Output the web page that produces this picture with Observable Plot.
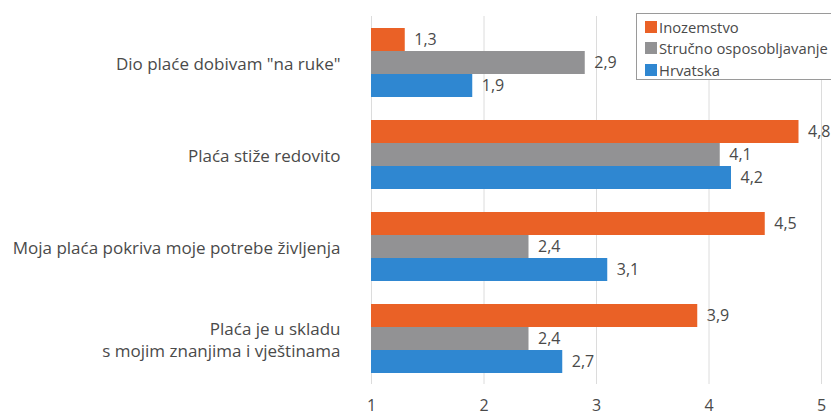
<!DOCTYPE html>
<html>
<head>
<meta charset="utf-8">
<script src="https://cdn.jsdelivr.net/npm/d3@7"></script>
<script src="https://cdn.jsdelivr.net/npm/@observablehq/plot@0.6"></script>
<style>
  html, body { margin: 0; padding: 0; background: #fff; }
  #wrap { position: relative; width: 831px; height: 417px; overflow: hidden; font-family: "Open Sans", sans-serif; }
  #legend { position: absolute; left: 636px; top: 13px; width: 200px; height: 67px; border: 1px solid #9a9a9a; background: #fff; box-sizing: border-box; padding: 2px 0 0 8px; }
  #legend .row { display: flex; align-items: center; height: 21.5px; font-size: 14.8px; color: #4a4a4a; white-space: nowrap; }
  #legend .sw { width: 12px; height: 12px; margin-right: 2px; flex: none; }
</style>
</head>
<body>
<div id="wrap"><div id="chart"></div><div id="legend"></div></div>
<script>
const categories = [
  'Dio plaće dobivam "na ruke"',
  "Plaća stiže redovito",
  "Moja plaća pokriva moje potrebe življenja",
  "Plaća je u skladu\ns mojim znanjima i vještinama"
];
const series = ["Inozemstvo", "Stručno osposobljavanje", "Hrvatska"];
const inozemstvo = [1.3, 4.8, 4.5, 3.9];
const strucno = [2.9, 4.1, 2.4, 2.4];
const hrvatska = [1.9, 4.2, 3.1, 2.7];
const colors = ["#ea6126", "#929294", "#2f87d1"];
const xTicks = [1, 2, 3, 4, 5];

const valuesBySeries = [inozemstvo, strucno, hrvatska];
const data = categories.flatMap((c, i) =>
  series.map((s, j) => ({ cat: c, series: s, key: c + "|" + s, value: valuesBySeries[j][i] }))
);
const yDomain = categories.flatMap((c, i) => [
  ...series.map(s => c + "|" + s),
  ...(i < categories.length - 1 ? ["gap" + i] : [])
]);
const labelRows = data.filter(d => d.series === series[1]);
const fmt = v => String(v).replace(".", ",");

const chart = Plot.plot({
  width: 831,
  height: 417,
  marginLeft: 371,
  marginRight: 10,
  marginTop: 16,
  marginBottom: 33,
  style: { fontFamily: "Open Sans, sans-serif", fontSize: "16px", color: "#4a4a4a", background: "#fff" },
  x: { domain: [1, 5], ticks: xTicks, tickSize: 0, tickPadding: 15, tickFormat: d => String(d), label: null },
  y: { domain: yDomain, axis: null, paddingInner: 0, paddingOuter: 0.5 },
  color: { domain: series, range: colors },
  marks: [
    Plot.ruleX(xTicks, { stroke: "#dcdcdc", strokeWidth: 1 }),
    Plot.barX(data, { x1: 1, x2: "value", y: "key", fill: "series" }),
    Plot.text(data, { x: "value", y: "key", text: d => fmt(d.value), dx: 9, textAnchor: "start", fill: "#4a4a4a", fontSize: 16 }),
    Plot.text(labelRows, { y: "key", text: "cat", frameAnchor: "left", dx: -31, textAnchor: "end", fill: "#4a4a4a", fontSize: 17, lineHeight: 1.3 })
  ]
});
document.getElementById("chart").appendChild(chart);

const legend = document.getElementById("legend");
series.forEach((s, i) => {
  const row = document.createElement("div");
  row.className = "row";
  const sw = document.createElement("span");
  sw.className = "sw";
  sw.style.background = colors[i];
  const t = document.createElement("span");
  t.textContent = s;
  row.appendChild(sw);
  row.appendChild(t);
  legend.appendChild(row);
});
</script>
</body>
</html>
